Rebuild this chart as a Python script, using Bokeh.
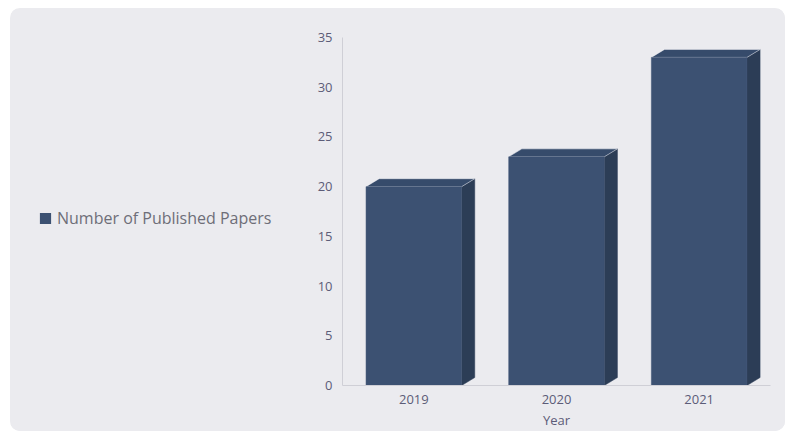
from bokeh.plotting import figure
from bokeh.layouts import row
from bokeh.models import FactorRange, Range1d, Legend, LegendItem, SingleIntervalTicker
from bokeh.embed import file_html
from bokeh.resources import INLINE

# ---- data ----
years = ["2019", "2020", "2021"]
papers = [20, 23, 33]
series_name = "Number of Published Papers"
x_label = "Year"

# ---- style ----
PANEL = "#ebebef"
FRONT = "#3c5172"
SIDE = "#2c3d56"
TOP = "#364b6b"
TXT = "#5c5c78"
bar_w = 0.67
depth_x = 0.092   # in category units
depth_y = 0.8     # in value units
H = 423

# ---- main chart ----
p = figure(x_range=FactorRange(*years), y_range=Range1d(0, 35),
           width=475, height=H, output_backend="svg", toolbar_location=None,
           min_border_left=32, min_border_right=15, min_border_top=29, min_border_bottom=46)
p.background_fill_color = PANEL
p.border_fill_color = PANEL
p.outline_line_color = None
p.xgrid.grid_line_color = None
p.ygrid.grid_line_color = None

centers = [i + 0.5 for i in range(len(years))]
side_xs, side_ys, top_xs, top_ys = [], [], [], []
for c, v in zip(centers, papers):
    r = c + bar_w / 2
    l = c - bar_w / 2
    side_xs.append([r, r + depth_x, r + depth_x, r])
    side_ys.append([0, depth_y, v + depth_y, v])
    top_xs.append([l, l + depth_x, r + depth_x, r])
    top_ys.append([v, v + depth_y, v + depth_y, v])

p.patches(side_xs, side_ys, fill_color=SIDE, line_color=SIDE, line_width=0.5)
p.patches(top_xs, top_ys, fill_color=TOP, line_color="#f4f4f8", line_width=0.8, line_alpha=0.6)
p.vbar(x=years, top=papers, width=bar_w, fill_color=FRONT, line_color=FRONT, line_width=0.5)

for ax in (p.xaxis[0], p.yaxis[0]):
    ax.axis_line_color = "#cfcfd6"
    ax.major_tick_line_color = None
    ax.minor_tick_line_color = None
    ax.major_label_text_color = TXT
    ax.major_label_text_font = "Open Sans"
    ax.major_label_text_font_size = "13px"
p.yaxis.ticker = SingleIntervalTicker(interval=5)
p.yaxis.major_label_standoff = 4
p.xaxis.major_label_standoff = 3
p.xaxis.axis_label = x_label
p.xaxis.axis_label_text_color = TXT
p.xaxis.axis_label_text_font = "Open Sans"
p.xaxis.axis_label_text_font_size = "13px"
p.xaxis.axis_label_text_font_style = "normal"
p.xaxis.axis_label_standoff = 4

# ---- legend panel (left) ----
lp = figure(width=300, height=H, output_backend="svg", toolbar_location=None,
            x_axis_type=None, y_axis_type=None, x_range=(0, 1), y_range=(0, 1),
            min_border=0)
lp.background_fill_color = PANEL
lp.border_fill_color = PANEL
lp.outline_line_color = None
lp.grid.grid_line_color = None
# legend proxy: one bar kept outside the visible range of this panel
proxy = lp.vbar(x=[-1], top=[0], width=0, fill_color=FRONT, line_color=None)

legend = Legend(items=[LegendItem(label=series_name, renderers=[proxy])],
                location=(28, 156), padding=0, margin=0, spacing=0,
                glyph_width=14, glyph_height=14, label_standoff=5,
                label_text_font="Open Sans", label_text_font_size="16px",
                label_text_color="#6e6e78", border_line_color=None,
                background_fill_alpha=0)
lp.add_layout(legend)

layout = row(lp, p, margin=(8, 8, 2, 10), spacing=0,
             styles={"border-radius": "10px", "overflow": "hidden", "background": PANEL})

open("out.html", "w").write(file_html(layout, INLINE))
